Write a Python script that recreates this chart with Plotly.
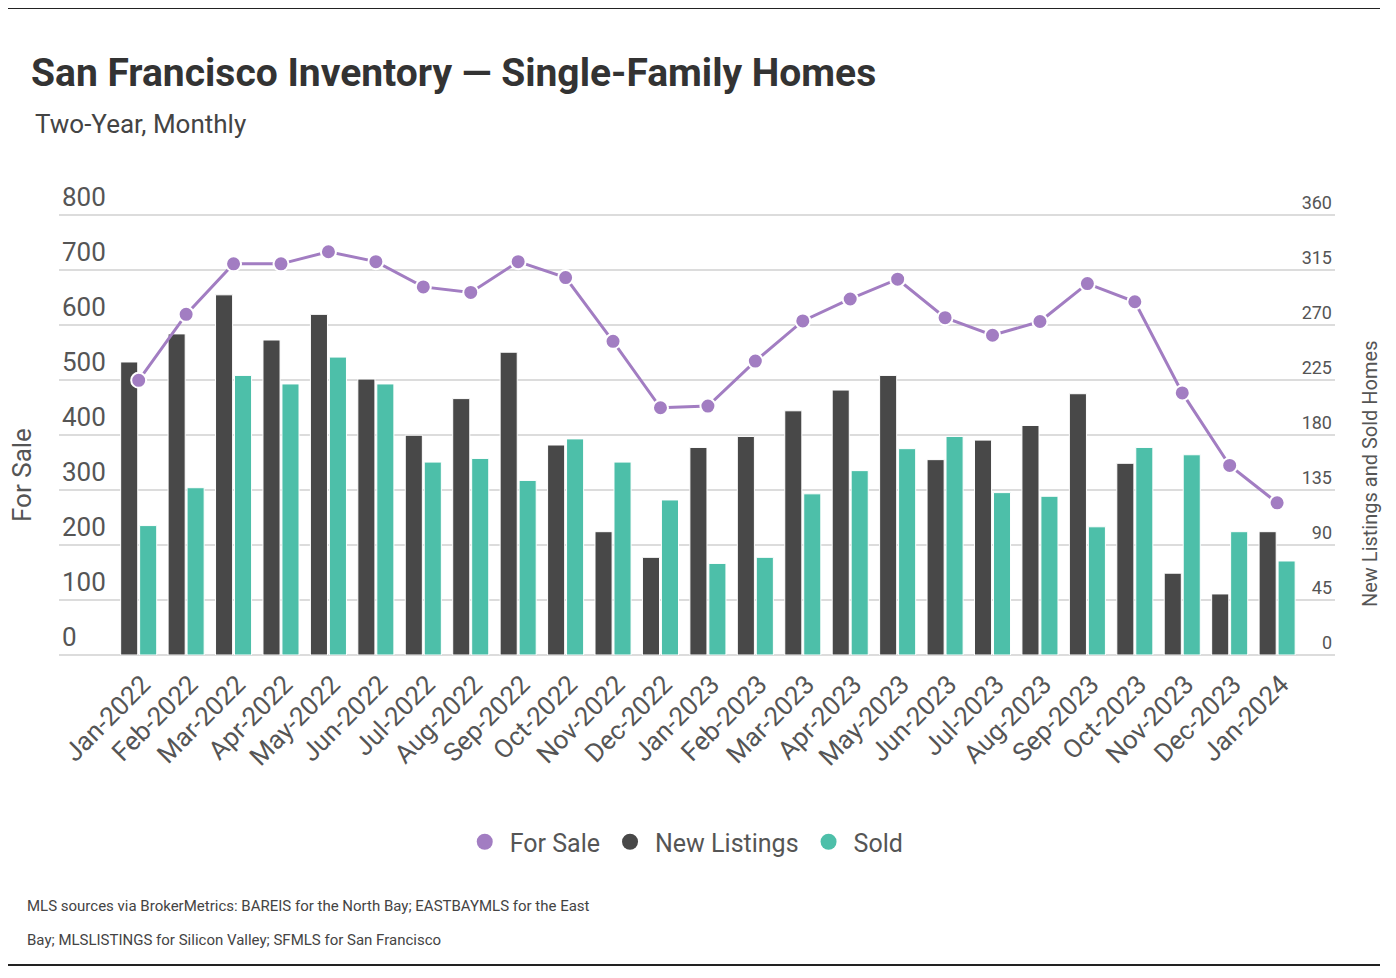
import plotly.graph_objects as go

months = ["Jan-2022", "Feb-2022", "Mar-2022", "Apr-2022", "May-2022", "Jun-2022",
          "Jul-2022", "Aug-2022", "Sep-2022", "Oct-2022", "Nov-2022", "Dec-2022",
          "Jan-2023", "Feb-2023", "Mar-2023", "Apr-2023", "May-2023", "Jun-2023",
          "Jul-2023", "Aug-2023", "Sep-2023", "Oct-2023", "Nov-2023", "Dec-2023",
          "Jan-2024"]
for_sale = [500, 620, 712, 712, 734, 716, 670, 660, 716, 687, 571, 450,
            453, 535, 608, 648, 684, 614, 582, 607, 676, 643, 477, 345, 277]
new_listings = [240, 263, 295, 258, 279, 226, 180, 210, 248, 172, 101, 80,
                170, 179, 200, 217, 229, 160, 176, 188, 214, 157, 67, 50, 101]
sold = [106, 137, 229, 222, 244, 222, 158, 161, 143, 177, 158, 127,
        75, 80, 132, 151, 169, 179, 133, 130, 105, 170, 164, 101, 77]

C_SALE = "#A27DC2"
C_NEW = "#484848"
C_SOLD = "#4DBFA9"
FONT = "Roboto, sans-serif"
TXT = "#555555"

fig = go.Figure()
fig.add_trace(go.Bar(x=months, y=new_listings, name="New Listings", marker_color=C_NEW,
                     marker_line=dict(color="white", width=1), yaxis="y", showlegend=False))
fig.add_trace(go.Bar(x=months, y=sold, name="Sold", marker_color=C_SOLD,
                     marker_line=dict(color="white", width=1), yaxis="y", showlegend=False))
fig.add_trace(go.Scatter(x=months, y=for_sale, name="For Sale", mode="lines+markers",
                         line=dict(color=C_SALE, width=3),
                         marker=dict(size=15, color=C_SALE, line=dict(color="white", width=2)),
                         yaxis="y2", showlegend=False))
# legend entries
for nm, col in [("For Sale", C_SALE), ("New Listings", C_NEW), ("Sold", C_SOLD)]:
    fig.add_trace(go.Scatter(x=[None], y=[None], mode="markers", name=nm,
                             marker=dict(size=16, color=col, symbol="circle"), yaxis="y2"))

PH = 441.0

def py(px):
    return (655 - px) / PH

def pxx(px):
    return (px - 59) / 1276.0

fig.update_layout(
    width=1396, height=978, autosize=False,
    margin=dict(l=51, r=69, t=206, b=331),
    paper_bgcolor="white", plot_bgcolor="white",
    font=dict(family=FONT, color=TXT),
    barmode="group", bargap=0.2, bargroupgap=0.1,
    title=dict(text="San Francisco Inventory — Single-Family Homes",
               x=23 / 1396, xref="container", xanchor="left",
               y=1 - 64 / 978, yref="container", yanchor="middle",
               font=dict(family=FONT, size=39, color="#333333", weight=700)),
    xaxis=dict(type="category", range=[-1.68, 25.22], tickangle=-45,
               tickfont=dict(size=26, color=TXT), showgrid=False, ticks="",
               showline=False, zeroline=False, ticklabelstandoff=8, ticklabelshift=4),
    yaxis=dict(side="right", range=[0, 361.2], tick0=0, dtick=45,
               ticklabelposition="inside top", ticklabeloverflow="allow",
               showgrid=True, gridcolor="#dcdcdc", gridwidth=1.5,
               zeroline=True, zerolinecolor="#dcdcdc", zerolinewidth=1.5,
               tickfont=dict(size=18, color=TXT), ticks=""),
    yaxis2=dict(side="left", overlaying="y", range=[0, 802.7], tick0=0, dtick=100,
                ticklabelposition="inside top", ticklabeloverflow="allow",
                showgrid=False, zeroline=False, ticks="",
                tickfont=dict(size=26, color=TXT)),
    legend=dict(orientation="h", x=0.49, xanchor="center", y=py(842), yanchor="middle",
                font=dict(size=25, color=TXT), itemsizing="trace", itemwidth=40),
    annotations=[
        dict(text="Two-Year, Monthly", xref="paper", yref="paper", x=pxx(33), y=py(124),
             xanchor="left", yanchor="middle", showarrow=False,
             font=dict(size=26, color="#444444")),
        dict(text="For Sale", xref="paper", yref="paper", x=pxx(22), y=py(475),
             xanchor="center", yanchor="middle", textangle=-90, showarrow=False,
             font=dict(size=26, color=TXT)),
        dict(text="New Listings and Sold Homes", xref="paper", yref="paper", x=pxx(1370), y=py(474),
             xanchor="center", yanchor="middle", textangle=-90, showarrow=False,
             font=dict(size=20, color=TXT)),
        dict(text="MLS sources via BrokerMetrics: BAREIS for the North Bay; EASTBAYMLS for the East",
             xref="paper", yref="paper", x=pxx(25), y=py(906), xanchor="left", yanchor="middle",
             showarrow=False, font=dict(size=15, color="#444444")),
        dict(text="Bay; MLSLISTINGS for Silicon Valley; SFMLS for San Francisco",
             xref="paper", yref="paper", x=pxx(25), y=py(940), xanchor="left", yanchor="middle",
             showarrow=False, font=dict(size=15, color="#444444")),
    ],
    shapes=[
        dict(type="line", xref="paper", yref="paper", x0=pxx(0), x1=pxx(1380), y0=py(8), y1=py(8),
             line=dict(color="#222222", width=2)),
        dict(type="line", xref="paper", yref="paper", x0=pxx(0), x1=pxx(1380), y0=py(965), y1=py(965),
             line=dict(color="#222222", width=2)),
    ],
)

fig.write_html("out.html")
